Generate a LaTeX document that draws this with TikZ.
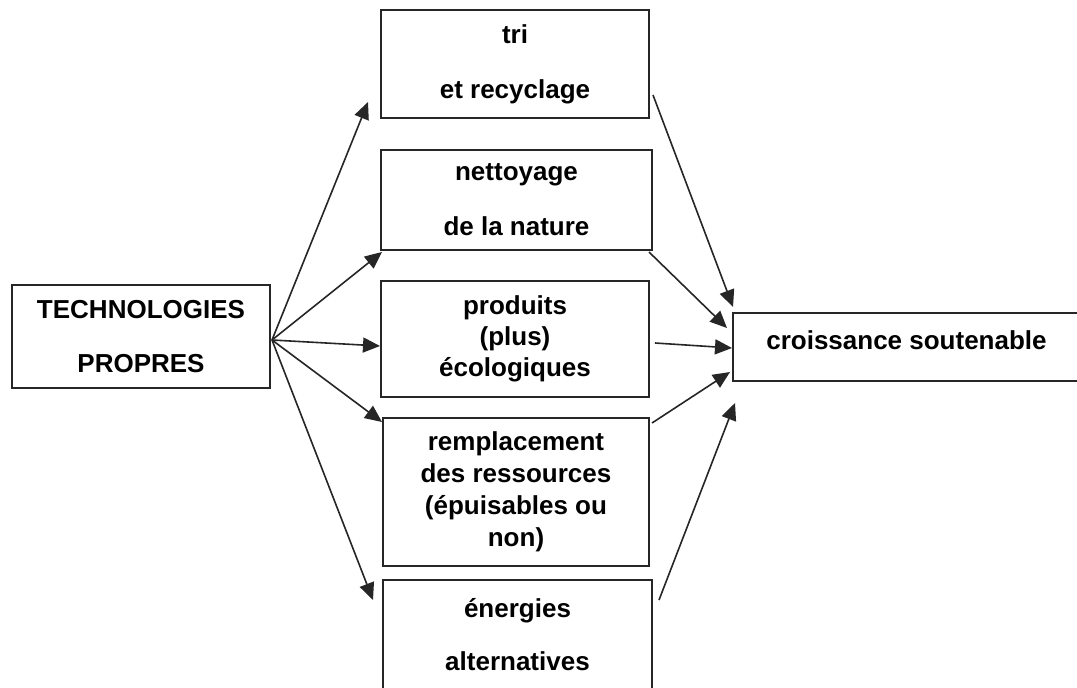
\documentclass[tikz,border=0pt]{standalone}
\usepackage{fontspec}
\setmainfont{Liberation Sans}
\usetikzlibrary{arrows.meta}
\begin{document}
\begin{tikzpicture}[x=1pt,y=-1pt,
  box/.style={draw=black!85, line width=1.6pt, inner sep=0pt, align=center,
    font=\fontsize{26}{31}\selectfont\bfseries},
  conn/.style={line width=1.6pt, draw=black!85,
    -{Triangle[length=17pt,width=15pt]}},
  lbl/.style={inner sep=0pt, font=\fontsize{26}{31}\selectfont\bfseries}]
\useasboundingbox (0,0) rectangle (1077,688);
\fill[white] (0,0) rectangle (1077,688);

\node[box, minimum width=258pt, minimum height=103pt] (tech) at (141,336.5)
  {TECHNOLOGIES\\[23pt]PROPRES};
\node[box, minimum width=268pt, minimum height=108pt] (b1) at (515,64)
  {tri\\[24pt]et recyclage};
\node[box, minimum width=271pt, minimum height=100pt] (b2) at (516.5,200)
  {nettoyage\\[24pt]de la nature};
\node[box, minimum width=268pt, minimum height=116pt] (b3) at (515,339)
  {produits\\(plus)\\écologiques};
\node[box, minimum width=266pt, minimum height=148pt,
  font=\fontsize{26}{32}\selectfont\bfseries] (b4) at (516,492)
  {remplacement\\des ressources\\(épuisables ou\\non)};
\node[box, minimum width=269pt, minimum height=110pt] (b5) at (517.5,635)
  {énergies\\[22pt]alternatives};
\node[box, minimum width=367pt, minimum height=68pt] (cs) at (916.5,347) {};
\node[lbl] (cst) at (906.5,340) {croissance soutenable};

% left fan
\coordinate (o) at (272,340);
\coordinate (t1) at (368,102);
\coordinate (t2) at (382,252);
\coordinate (t3) at (380,346);
\coordinate (t4) at (382,422);
\coordinate (t5) at (373,600);
\draw[conn] (o) -- (t1);
\draw[conn] (o) -- (t2);
\draw[conn] (o) -- (t3);
\draw[conn] (o) -- (t4);
\draw[conn] (o) -- (t5);

% right fan
\coordinate (s1) at (653,95);
\coordinate (s2) at (649,252);
\coordinate (s3) at (655,343);
\coordinate (s4) at (652,423);
\coordinate (s5) at (659,600);
\coordinate (r1) at (733,307);
\coordinate (r2) at (727,328);
\coordinate (r3) at (732,348);
\coordinate (r4) at (730,372);
\coordinate (r5) at (735,403);
\draw[conn] (s1) -- (r1);
\draw[conn] (s2) -- (r2);
\draw[conn] (s3) -- (r3);
\draw[conn] (s4) -- (r4);
\draw[conn] (s5) -- (r5);
\end{tikzpicture}
\end{document}
